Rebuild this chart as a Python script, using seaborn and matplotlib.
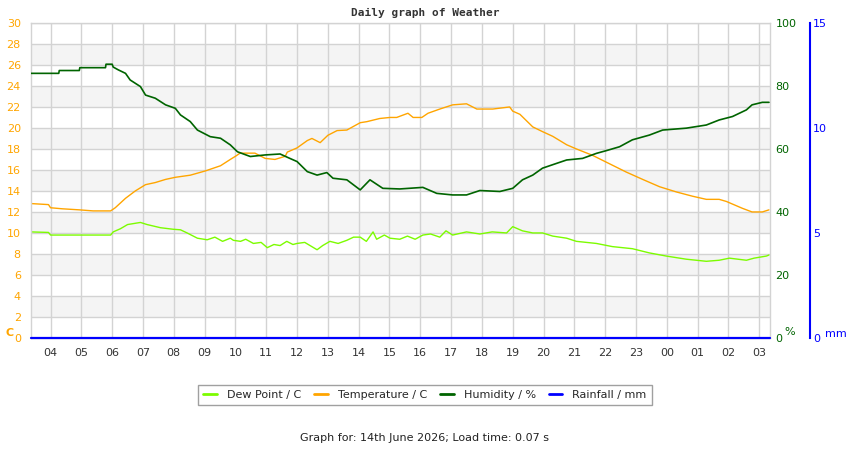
import pandas as pd
import seaborn as sns
import matplotlib.pyplot as plt
import matplotlib.dates as mdates

# Readings (time of day, value); times before 03:21 belong to the next day
START = pd.Timestamp("2026-06-14 03:21")
END = pd.Timestamp("2026-06-15 03:21")

temp_times = ["03:21", "03:56", "04:00", "04:23", "04:56", "05:23", "05:57", "06:06",
              "06:26", "06:45", "07:05", "07:24", "07:44", "08:03", "08:32", "09:01",
              "09:31", "09:50", "10:00", "10:09", "10:38", "10:58", "11:17", "11:37",
              "11:41", "12:00", "12:20", "12:29", "12:45", "13:00", "13:18", "13:37",
              "14:03", "14:16", "14:41", "15:01", "15:14", "15:36", "15:46", "16:03",
              "16:15", "16:38", "17:03", "17:30", "17:50", "18:21", "18:54", "19:00",
              "19:14", "19:39", "19:58", "20:18", "20:45", "21:04", "21:35", "22:08",
              "22:41", "23:13", "23:46", "00:19", "00:50", "01:17", "01:42", "01:56",
              "02:27", "02:46", "03:06", "03:19"]
temp_values = [12.8, 12.7, 12.4, 12.3, 12.2, 12.1, 12.1, 12.4,
               13.3, 14.0, 14.6, 14.8, 15.1, 15.3, 15.5, 15.9,
               16.4, 17.0, 17.3, 17.6, 17.6, 17.1, 17.0, 17.3,
               17.7, 18.1, 18.8, 19.0, 18.6, 19.3, 19.75, 19.8,
               20.5, 20.6, 20.9, 21.0, 21.0, 21.4, 21.0, 21.0,
               21.4, 21.8, 22.2, 22.3, 21.8, 21.8, 22.0, 21.6,
               21.3, 20.1, 19.65, 19.2, 18.4, 18.0, 17.4, 16.6,
               15.8, 15.1, 14.4, 13.9, 13.5, 13.2, 13.2, 13.0,
               12.35, 12.0, 12.0, 12.2]

dew_times = ["03:21", "03:56", "04:00", "05:57", "06:02", "06:16", "06:30", "06:55",
             "07:08", "07:34", "07:59", "08:13", "08:26", "08:46", "09:05", "09:20",
             "09:35", "09:50", "09:56", "10:10", "10:20", "10:35", "10:50", "11:02",
             "11:15", "11:27", "11:40", "11:52", "12:00", "12:15", "12:39", "12:50",
             "13:04", "13:20", "13:37", "13:50", "14:03", "14:15", "14:28", "14:35",
             "14:50", "15:01", "15:20", "15:35", "15:50", "16:05", "16:20", "16:38",
             "16:50", "17:03", "17:30", "17:56", "18:20", "18:48", "19:00", "19:19",
             "19:39", "19:58", "20:18", "20:45", "21:04", "21:43", "22:14", "22:53",
             "23:26", "23:59", "00:38", "01:17", "01:42", "02:02", "02:35", "02:50",
             "03:14", "03:19"]
dew_values = [10.1, 10.05, 9.8, 9.8, 10.1, 10.4, 10.8, 11.0,
              10.8, 10.5, 10.35, 10.3, 10.0, 9.5, 9.35, 9.6,
              9.2, 9.5, 9.3, 9.2, 9.4, 9.0, 9.1, 8.6,
              8.9, 8.8, 9.2, 8.9, 9.0, 9.1, 8.4, 8.8,
              9.2, 9.0, 9.3, 9.6, 9.6, 9.2, 10.1, 9.4,
              9.8, 9.5, 9.4, 9.7, 9.4, 9.8, 9.9, 9.6,
              10.2, 9.8, 10.1, 9.9, 10.1, 10.0, 10.6, 10.2,
              10.0, 10.0, 9.7, 9.5, 9.2, 9.0, 8.7, 8.5,
              8.1, 7.8, 7.5, 7.3, 7.4, 7.6, 7.4, 7.6,
              7.8, 7.9]

hum_times = ["03:21", "04:16", "04:17", "04:56", "04:57", "05:47", "05:48", "06:00",
             "06:02", "06:12", "06:26", "06:35", "06:55", "07:05", "07:24", "07:44",
             "08:03", "08:13", "08:32", "08:46", "09:11", "09:31", "09:50", "10:04",
             "10:29", "10:58", "11:27", "11:46", "12:00", "12:20", "12:39", "12:58",
             "13:10", "13:37", "14:03", "14:22", "14:47", "15:20", "16:05", "16:32",
             "17:03", "17:30", "17:56", "18:35", "19:00", "19:19", "19:39", "19:58",
             "20:25", "20:45", "21:16", "21:43", "22:03", "22:28", "22:53", "23:26",
             "23:52", "00:38", "01:17", "01:42", "02:08", "02:35", "02:46", "03:06",
             "03:19"]
hum_values = [84.0, 84.0, 84.9, 84.9, 85.8, 85.8, 86.9, 86.9,
              86.0, 85.1, 84.0, 81.9, 79.8, 77.1, 76.1, 74.0,
              72.9, 70.8, 68.7, 66.0, 63.9, 63.4, 61.3, 59.1,
              57.6, 58.1, 58.4, 57.0, 56.0, 52.8, 51.7, 52.5,
              50.7, 50.2, 47.0, 50.2, 47.5, 47.3, 47.8, 45.9,
              45.4, 45.4, 46.8, 46.5, 47.5, 50.2, 51.7, 53.9,
              55.4, 56.5, 57.0, 58.6, 59.5, 60.7, 62.9, 64.4,
              66.0, 66.6, 67.6, 69.2, 70.3, 72.4, 74.0, 74.8,
              74.8]

rain_values = [0.0, 0.0]

TEMP_C = "#ffa500"
DEW_C = "#7cfc00"
HUM_C = "#006400"
RAIN_C = "#0000ff"
GRID_C = "#d3d3d3"


def to_dt(times):
    out = []
    for t in times:
        d = pd.Timestamp(f"2026-06-14 {t}")
        if d < START:
            d += pd.Timedelta(days=1)
        out.append(d)
    return out


temp_df = pd.DataFrame({"time": to_dt(temp_times), "value": temp_values})
dew_df = pd.DataFrame({"time": to_dt(dew_times), "value": dew_values})
hum_df = pd.DataFrame({"time": to_dt(hum_times), "value": hum_values})
rain_df = pd.DataFrame({"time": [START, END], "value": rain_values})

sns.set_style("white")
plt.rcParams["font.family"] = ["DejaVu Sans"]

fig = plt.figure(figsize=(8.5, 4.5), dpi=100)
ax = fig.add_axes([0.0359, 0.249, 0.870, 0.700])
ax2 = ax.twinx()
ax3 = ax.twinx()

# alternating bands and grid
for lo in range(2, 30, 4):
    ax.axhspan(lo, lo + 2, color="#f4f4f4", zorder=0, lw=0)
ax.set_axisbelow(True)
ax.grid(True, color=GRID_C, linewidth=1)

sns.lineplot(data=dew_df, x="time", y="value", ax=ax, color=DEW_C, linewidth=1,
             label="Dew Point / C", legend=False)
sns.lineplot(data=temp_df, x="time", y="value", ax=ax, color=TEMP_C, linewidth=1,
             label="Temperature / C", legend=False)
sns.lineplot(data=hum_df, x="time", y="value", ax=ax2, color=HUM_C, linewidth=1.2,
             label="Humidity / %", legend=False)
sns.lineplot(data=rain_df, x="time", y="value", ax=ax3, color=RAIN_C, linewidth=1.6,
             label="Rainfall / mm", legend=False)
ax3.lines[0].set_clip_on(False)

ax.set_xlim(START, END)
ax.set_ylim(0, 30)
ax2.set_ylim(0, 100)
ax3.set_ylim(0, 15)

ax.xaxis.set_major_locator(mdates.HourLocator())
ax.xaxis.set_major_formatter(mdates.DateFormatter("%H"))
ax.set_yticks(range(0, 31, 2))
ax2.set_yticks(range(0, 101, 20))
ax3.set_yticks(range(0, 16, 5))

for a in (ax, ax2, ax3):
    a.set_xlabel("")
    a.set_ylabel("")

ax.tick_params(axis="x", length=0, pad=7, labelsize=8, labelcolor="#333333")
ax.tick_params(axis="y", length=0, pad=7, labelsize=8, labelcolor=TEMP_C)
ax2.tick_params(axis="y", length=0, pad=4, labelsize=8, labelcolor=HUM_C)
ax3.tick_params(axis="y", length=0, pad=2, labelsize=8, labelcolor=RAIN_C)

for s in ax.spines.values():
    s.set_color(GRID_C)
    s.set_linewidth(1)
for s in ax2.spines.values():
    s.set_visible(False)
for name, s in ax3.spines.items():
    s.set_visible(name == "right")
ax3.spines["right"].set_position(("outward", 29))
ax3.spines["right"].set_color(RAIN_C)
ax3.spines["right"].set_linewidth(1.5)

fig.text(0.5, 0.971, "Daily graph of Weather", ha="center", va="center",
         fontsize=8, fontweight="bold", family="DejaVu Sans Mono", color="#333333")
fig.text(0.006, 0.26, "C", ha="left", va="center", fontsize=8, fontweight="bold",
         color=TEMP_C)
fig.text(0.923, 0.262, "%", ha="left", va="center", fontsize=8, color=HUM_C)
fig.text(0.971, 0.257, "mm", ha="left", va="center", fontsize=8, color=RAIN_C)

handles = []
labels = []
for a in (ax, ax2, ax3):
    h, l = a.get_legend_handles_labels()
    handles += h
    labels += l
leg = fig.legend(handles, labels, loc="center", bbox_to_anchor=(0.5, 0.122), ncol=4,
                 fontsize=8, frameon=True, fancybox=False, handlelength=1.2,
                 handletextpad=0.9, columnspacing=1.2, borderpad=0.45)
leg.get_frame().set_edgecolor("#888888")
leg.get_frame().set_linewidth(1)
for line in leg.get_lines():
    line.set_linewidth(2)

fig.text(0.5, 0.027, "Graph for: 14th June 2026; Load time: 0.07 s", ha="center",
         va="center", fontsize=8, color="#222222")

fig.savefig("out.png", dpi=100)
